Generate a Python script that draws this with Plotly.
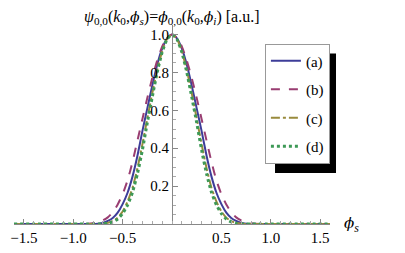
import plotly.graph_objects as go

phi = [-1.6, -1.4, -1.2, -1.0, -0.95, -0.9, -0.85, -0.8, -0.75, -0.7, -0.65, -0.6, -0.55, -0.5, -0.45, -0.4,
       -0.35, -0.3, -0.25, -0.2, -0.15, -0.1, -0.05, 0.0,
       0.05, 0.1, 0.15, 0.2, 0.25, 0.3, 0.35, 0.4, 0.45, 0.5, 0.55, 0.6, 0.65, 0.7, 0.75, 0.8, 0.85, 0.9,
       0.95, 1.0, 1.2, 1.4, 1.6]

a_vals = [0, 0, 0, 0, 0, 0, 0, 0, 0.002, 0.006, 0.016, 0.032, 0.060, 0.105, 0.165, 0.250,
          0.360, 0.490, 0.610, 0.730, 0.840, 0.925, 0.980, 1.0,
          0.980, 0.925, 0.840, 0.730, 0.610, 0.490, 0.360, 0.250, 0.165, 0.105, 0.060, 0.032, 0.016, 0.006,
          0.002, 0, 0, 0, 0, 0, 0, 0, 0]
b_vals = [0, 0, 0, 0, 0, 0, 0.001, 0.004, 0.009, 0.019, 0.035, 0.062, 0.103, 0.157, 0.230, 0.327,
          0.440, 0.553, 0.665, 0.770, 0.862, 0.936, 0.983, 1.0,
          0.983, 0.936, 0.862, 0.770, 0.665, 0.553, 0.440, 0.327, 0.230, 0.157, 0.103, 0.062, 0.035, 0.019,
          0.009, 0.004, 0.001, 0, 0, 0, 0, 0, 0]
c_vals = [0, 0, 0, 0, 0, 0, 0, 0, 0, 0.002, 0.006, 0.015, 0.033, 0.066, 0.118, 0.190,
          0.294, 0.420, 0.557, 0.690, 0.812, 0.910, 0.977, 1.0,
          0.977, 0.910, 0.812, 0.690, 0.557, 0.420, 0.294, 0.190, 0.118, 0.066, 0.033, 0.015, 0.006, 0.002,
          0, 0, 0, 0, 0, 0, 0, 0, 0]
d_vals = [0, 0, 0, 0, 0, 0, 0, 0, 0, 0.001, 0.004, 0.011, 0.026, 0.055, 0.100, 0.167,
          0.265, 0.390, 0.535, 0.670, 0.800, 0.906, 0.975, 1.0,
          0.975, 0.906, 0.800, 0.670, 0.535, 0.390, 0.265, 0.167, 0.100, 0.055, 0.026, 0.011, 0.004, 0.001,
          0, 0, 0, 0, 0, 0, 0, 0, 0]

names = ["(a)", "(b)", "(c)", "(d)"]
series = [a_vals, b_vals, c_vals, d_vals]
colors = ["rgb(61,61,153)", "rgb(153,61,113)", "rgb(153,139,61)", "rgb(61,153,86)"]
dashes = ["solid", "dash", "dashdot", "dot"]
widths = [2, 2, 2, 3]

x_ticks = [-1.5, -1.0, -0.5, 0.5, 1.0, 1.5]
x_labels = ["\u22121.5", "\u22121.0", "\u22120.5", "0.5", "1.0", "1.5"]
y_ticks = [0.2, 0.4, 0.6, 0.8, 1.0]
y_labels = ["0.2", "0.4", "0.6", "0.8", "1.0"]

FONT = "Liberation Serif"
PHI = "<span style=\"font-family:'DejaVu Serif';font-size:14px\">\u03d5</span>"
PHI_L = "<span style=\"font-family:'DejaVu Serif';font-size:15px\">\u03d5</span>"

fig = go.Figure()
for i, (nm, ys) in enumerate(zip(names, series)):
    fig.add_trace(go.Scatter(
        x=phi, y=ys, name=nm, mode="lines", legendgroup=nm,
        line=dict(color=colors[i], dash=dashes[i], width=widths[i], shape="spline", smoothing=0.5),
    ))

title_text = ("<i>\u03c8</i><sub>0,0</sub>(<i>k</i><sub>0</sub>,<i>" + PHI + "</i><sub><i>s</i></sub>)="
              "<i>" + PHI + "</i><sub>0,0</sub>(<i>k</i><sub>0</sub>,<i>" + PHI + "</i><sub><i>i</i></sub>) [a.u.]")

# page body adds an 8px offset, so the figure is 8px smaller and shifted
fig.update_layout(
    width=397, height=245,
    margin=dict(l=6, r=75, t=16.5, b=29, autoexpand=False),
    plot_bgcolor="white", paper_bgcolor="white",
    font=dict(family=FONT, size=14, color="black"),
    showlegend=True,
    legend=dict(
        x=0.794, y=0.907, xanchor="left", yanchor="top",
        bgcolor="white", bordercolor="#999999", borderwidth=1,
        font=dict(family=FONT, size=15, color="black"),
        tracegroupgap=6, itemwidth=30,
    ),
    xaxis=dict(
        range=[-1.6, 1.6], tickvals=x_ticks, ticktext=x_labels, automargin=False,
        showgrid=False, zeroline=False, showline=True, linecolor="#888888", linewidth=1,
        ticks="inside", ticklen=5, tickcolor="#888888",
        minor=dict(ticks="inside", ticklen=3, dtick=0.1, tickcolor="#aaaaaa"),
        tickfont=dict(family=FONT, size=15),
    ),
    yaxis=dict(
        range=[0, 1.05], tickvals=y_ticks, ticktext=y_labels, automargin=False,
        anchor="free", position=0.5,
        showgrid=False, zeroline=False, showline=True, linecolor="#888888", linewidth=1,
        ticks="inside", ticklen=5, tickcolor="#888888",
        minor=dict(ticks="inside", ticklen=3, dtick=0.05, tickcolor="#aaaaaa"),
        tickfont=dict(family=FONT, size=15),
    ),
    shapes=[dict(type="rect", xref="paper", yref="paper", x0=0.826, x1=1.019, y0=0.256, y1=0.857,
                 fillcolor="black", line=dict(width=0), layer="above")],
    annotations=[
        dict(text=title_text, xref="paper", yref="paper", x=0.5, y=1.0, xanchor="center", yanchor="middle",
             yshift=8, showarrow=False, font=dict(family=FONT, size=16)),
        dict(text="<i>" + PHI_L + "</i><sub><i>s</i></sub>", xref="paper", yref="paper", x=1.0, y=0.0,
             xanchor="left", yanchor="middle", xshift=12, showarrow=False, font=dict(family=FONT, size=17)),
    ],
)

fig.write_html("out.html")
